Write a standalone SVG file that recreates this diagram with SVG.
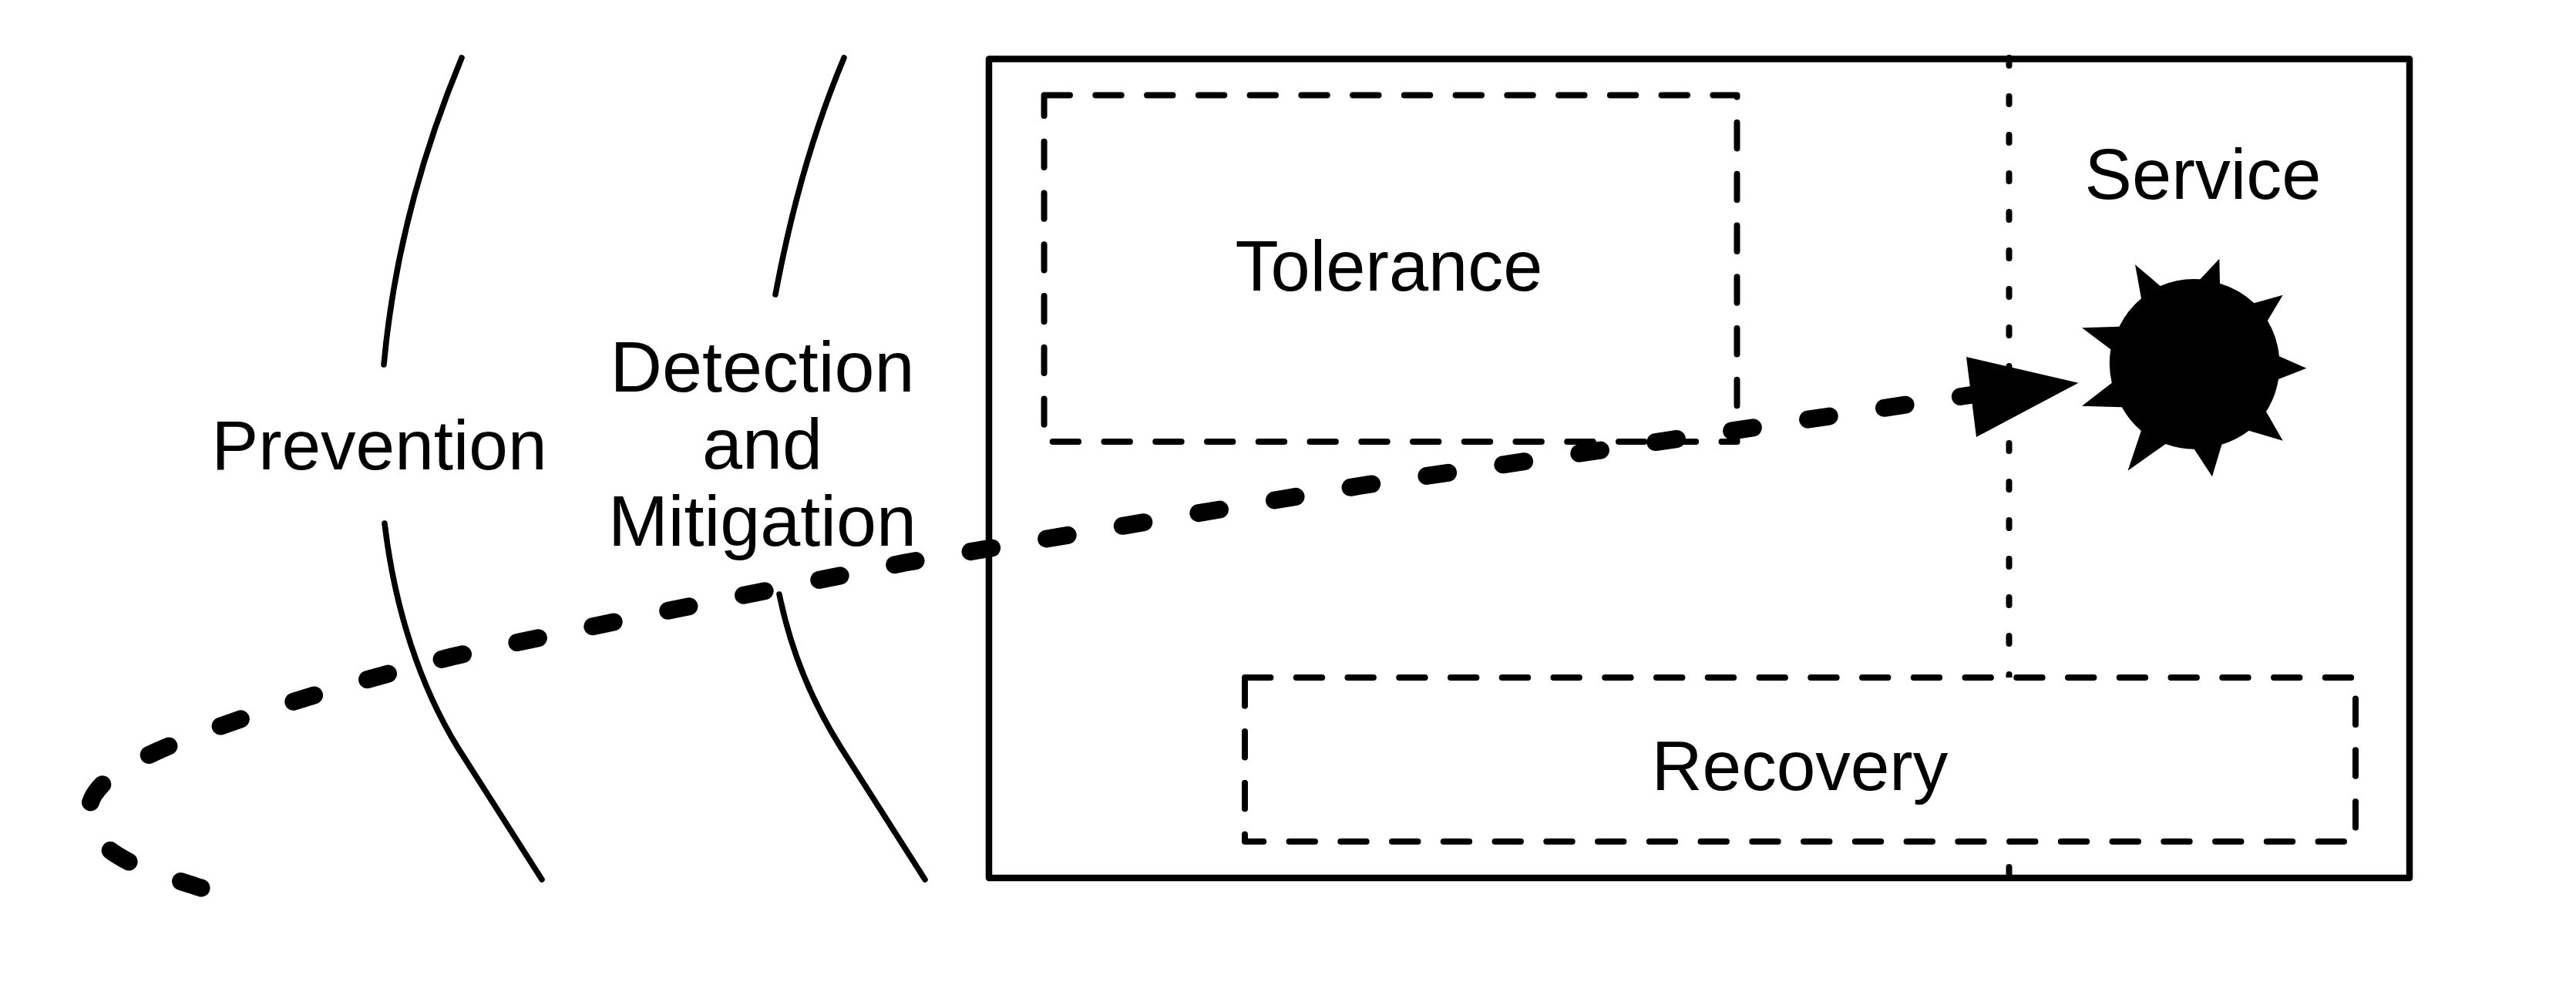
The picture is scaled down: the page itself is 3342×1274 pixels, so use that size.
<svg xmlns="http://www.w3.org/2000/svg" width="3342" height="1274" viewBox="0 0 3342 1274">
<style>
.t{font-family:"Liberation Sans",Arial,sans-serif;font-size:92px;fill:#000;text-anchor:middle}
.line{fill:none;stroke:#000;stroke-width:7.5;stroke-linecap:round;stroke-linejoin:round}
.dash{fill:#fff;stroke:#000;stroke-width:8;stroke-linecap:round;stroke-linejoin:round;stroke-dasharray:33.4 33.35}
</style>
<rect width="3342" height="1274" fill="#fff"/>
<g id="prevention">
<path class="line" d="M599 75C545 205 510 340 498 473"/>
<path class="line" d="M499 679C512 790 545 890 594 970L703 1141"/>
<text class="t" x="492" y="609" style="font-size:91px">Prevention</text>
</g>
<g id="detection">
<path class="line" d="M1095 75C1055 170 1025 280 1006 382"/>
<path class="line" d="M1011 771C1025 840 1050 905 1091 970L1200 1141"/>
<text class="t" x="989" y="508" style="font-size:93.5px">Detection</text>
<text class="t" x="989" y="608" style="font-size:93.5px">and</text>
<text class="t" x="989" y="708" style="font-size:93.5px">Mitigation</text>
</g>
<g id="system">
<rect x="1283" y="76.5" width="1843" height="1062.5" fill="none" stroke="#000" stroke-width="8.5" stroke-linejoin="round"/>
<path class="line" stroke-dasharray="10 40" style="stroke-width:8" d="M2606.5 75V1139"/>
</g>
<g id="tolerance">
<path class="dash" d="M1354.6 123.5H2253.5V573H1354.6Z"/>
<text class="t" x="1802" y="377">Tolerance</text>
</g>
<g id="recovery">
<path class="dash" d="M1615 879H3056V1091.7H1615Z"/>
<text class="t" x="2335" y="1025" style="font-size:91px">Recovery</text>
</g>
<g id="service">
<text class="t" x="2858" y="258">Service</text>
<path id="burst" d="M2770 343.3L2802.7 371A110 110 0 0 1 2854.4 362.3L2879.3 335.7L2880 367.7A110 110 0 0 1 2924.5 393.3L2961.7 382.7L2941.8 416A110 110 0 0 1 2957 462.3L2992.3 477.7L2956 492A110 110 0 0 1 2940 534L2961.7 571.7L2917.6 558.7A110 110 0 0 1 2882.4 576.7L2870 618.3L2846.7 582.7A110 110 0 0 1 2809.6 576L2760.5 610.7L2777.8 559A110 110 0 0 1 2752.9 528.3L2701 526.7L2739.8 496.7A110 110 0 0 1 2738.3 453.3L2701 425.3L2749.4 423.7A110 110 0 0 1 2778 387.3Z" fill="#000"/>
</g>
<g id="connectors">
<path d="M261 1152C225 1140 185 1130 153 1110C120 1090 106 1058 122 1031C139 1005 170 990 205 974C270 945 400 900 586 852C800 805 1000 765 1174 730L1766 630L2260 557L2560 512" fill="none" stroke="#000" stroke-width="23" stroke-linecap="round" stroke-dasharray="28 72"/>
<polygon points="2551,463 2696.5,496.7 2564,567" fill="#000"/>
</g>
</svg>
